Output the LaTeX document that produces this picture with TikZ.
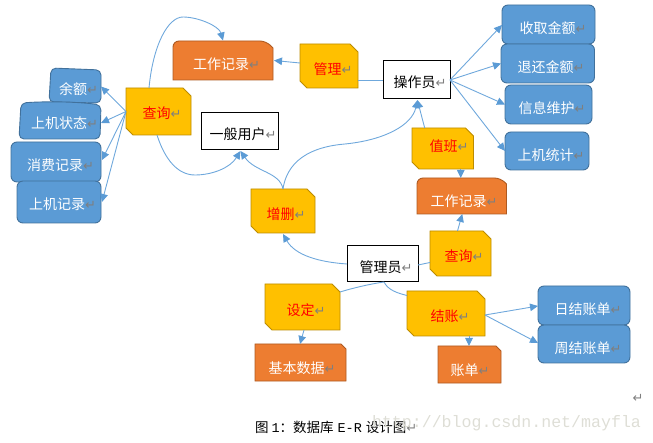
\documentclass[tikz,border=0pt]{standalone}
\usepackage{fontspec}
\setmainfont{Noto Sans CJK SC}
\newfontfamily\dejafont{DejaVu Sans}
\newfontfamily\wmfont{Liberation Mono}
\usetikzlibrary{arrows.meta}
\definecolor{linkblue}{HTML}{6FA8DC}
\definecolor{tipblue}{HTML}{5B9BD5}
\definecolor{bluefill}{HTML}{5B9BD5}
\definecolor{blueline}{HTML}{41719C}
\definecolor{yelfill}{HTML}{FFC000}
\definecolor{yelline}{HTML}{BC8C00}
\definecolor{orfill}{HTML}{ED7D31}
\definecolor{orline}{HTML}{AE5A21}
\definecolor{retgray}{HTML}{7F7F7F}
\newcommand{\retmark}{{\dejafont\fontsize{13}{13}\selectfont\textcolor{retgray}{↵}}}
% name x1 y1 x2 y2 style textx texty text
\newcommand{\erbox}[9]{%
  \pgfmathsetmacro{\cxv}{(#2+#4)/2}\pgfmathsetmacro{\cyv}{(#3+#5)/2}%
  \pgfmathsetmacro{\wv}{#4-#2}\pgfmathsetmacro{\hv}{#5-#3}%
  \pgfmathsetmacro{\dxv}{2*(#7-\cxv)+2}\pgfmathsetmacro{\dyv}{\cyv-#8}%
  \node[#6,minimum width=\wv pt,minimum height=\hv pt] (#1) at (\cxv,\cyv)
    {\raisebox{\dyv pt}[0pt][0pt]{\raisebox{-0.38em}[0pt][0pt]{\makebox[0pt]{\hspace{\dxv pt}#9\retmark}}}};%
}
% yellow outline with two cut corners: x1 y1 x2 y2
\newcommand{\yelshape}[4]{%
  \draw[yelshape] (#1,#2) -- ({#3-8},#2) -- (#3,{#2+8}) -- (#3,#4) -- ({#1+7},#4) -- (#1,{#4-7}) -- cycle;%
}
% orange outline with round top left and cut top right: x1 y1 x2 y2 round cut
\newcommand{\orshape}[6]{%
  \draw[orshape] (#1,#4) {[rounded corners=#5pt] -- (#1,#2) -- ({#3-#6},#2)} -- (#3,{#2+#6}) -- (#3,#4) -- cycle;%
}
\tikzset{
  base/.style={inner sep=0pt,outer sep=0pt,font=\fontsize{14}{14}\selectfont,line width=0.9pt},
  bluebox/.style={base,draw=blueline,fill=bluefill,text=white,rounded corners=6pt},
  lighttext/.style={base,text=white},
  redtext/.style={base,text=red},
  whitebox/.style={base,draw=black,fill=white,text=black,line width=1pt},
  yelshape/.style={draw=yelline,fill=yelfill,line width=0.9pt},
  blueshape/.style={draw=blueline,fill=bluefill,line width=0.9pt,rounded corners=5pt},
  orshape/.style={draw=orline,fill=orfill,line width=0.9pt},
  link/.style={draw=linkblue,line width=0.9pt},
  arrowlink/.style={link,-{Triangle[length=8pt,width=7.5pt,color=tipblue,fill=tipblue]}},
  plain/.style={inner sep=0pt,outer sep=0pt}
}
\begin{document}
\begin{tikzpicture}[x=1pt,y=-1pt]
\useasboundingbox (0,0) rectangle (653,443);
% left attribute boxes
\draw[blueshape] (51,68) -- (101,70) -- (101,103) -- (49,102) -- cycle;
\erbox{yue}{49}{68}{101}{103}{lighttext}{77.5}{89}{余额}
\draw[blueshape] (21,103) .. controls (50,101) and (80,102) .. (101,105) -- (100,139) -- (19,139) -- cycle;
\erbox{zhuangtai}{19}{103}{101}{139}{lighttext}{63.5}{123}{上机状态}
\erbox{xiaofei}{11}{142}{101}{182}{bluebox}{59.5}{165}{消费记录}
\erbox{shangji}{17}{181}{101}{223}{bluebox}{61.5}{204}{上机记录}
% right attribute boxes
\erbox{shouqu}{502}{5}{595}{44}{bluebox}{552}{28}{收取金额}
\erbox{tuihuan}{501}{44}{594.5}{83}{bluebox}{550}{67}{退还金额}
\erbox{xinxi}{505}{85}{592}{124}{bluebox}{551}{108}{信息维护}
\erbox{tongji}{505}{132}{589}{170}{bluebox}{550}{155}{上机统计}
\erbox{rijie}{538}{286}{630}{325}{bluebox}{587}{309}{日结账单}
\erbox{zhoujie}{538}{325}{630}{363}{bluebox}{587}{348}{周结账单}
% orange boxes
\orshape{173}{41}{273}{80}{6}{7}
\erbox{gongzuoa}{173}{41}{273}{80}{lighttext}{225.5}{64}{工作记录}
\orshape{417}{178}{506.5}{214}{6}{6}
\erbox{gongzuob}{417}{178}{506.5}{214}{lighttext}{463}{201}{工作记录}
\orshape{255}{344}{346}{381}{0.01}{5}
\erbox{jiben}{255}{344}{346}{381}{lighttext}{301}{368}{基本数据}
\orshape{438}{346}{501}{383}{0.01}{5}
\erbox{zhangdan}{438}{346}{501}{383}{lighttext}{469}{370}{账单}
% yellow boxes
\yelshape{126}{88}{191}{135}
\erbox{chaxuna}{126}{88}{191}{135}{redtext}{161}{113}{查询}
\yelshape{300}{44}{358}{88}
\erbox{guanli}{300}{44}{358}{88}{redtext}{332}{69}{管理}
\yelshape{251}{189}{315}{233}
\erbox{zengshan}{251}{189}{315}{233}{redtext}{285}{214}{增删}
\yelshape{412}{128}{473.5}{169}
\erbox{zhiban}{412}{128}{473.5}{169}{redtext}{448}{146}{值班}
\yelshape{430}{231}{491}{276}
\erbox{chaxunb}{430}{231}{491}{276}{redtext}{463}{256}{查询}
\yelshape{265}{284}{340}{330}
\erbox{sheding}{265}{284}{340}{330}{redtext}{305}{310}{设定}
\yelshape{407}{291}{485}{336}
\erbox{jiezhang}{407}{291}{485}{336}{redtext}{449}{316}{结账}
% entity boxes
\erbox{caozuo}{383}{61}{450}{99}{whitebox}{419}{82}{操作员}
\erbox{yiban}{201}{113}{278}{150}{whitebox}{242}{134}{一般用户}
\erbox{guanliyuan}{347}{246}{418}{282}{whitebox}{385}{267}{管理员}
% connectors
\draw[arrowlink] (chaxuna.west) -- ([yshift=-1pt]yue.east);
\draw[arrowlink] (chaxuna.west) -- ([yshift=-2pt]zhuangtai.east);
\draw[arrowlink] (chaxuna.west) -- ([xshift=1pt,yshift=2pt]xiaofei.east);
\draw[arrowlink] (chaxuna.west) -- ([xshift=1pt]shangji.east);
\draw[arrowlink] ([xshift=-9.5pt]chaxuna.north) .. controls (153,45) and (168,17) .. (183,17) .. controls (198,17) and (219,26) .. ([yshift=0.5pt]gongzuoa.north);
\draw[arrowlink] ([xshift=-1.5pt]chaxuna.south) .. controls (165,160) and (178,175) .. (195,175) .. controls (212,175) and (230,168) .. ([xshift=1pt,yshift=-1pt]yiban.south);
\draw[arrowlink] ([yshift=3pt]guanli.west) -- ([xshift=1pt]gongzuoa.east);
\draw[link] ([yshift=-14pt]guanli.east) -- (caozuo.west);
\draw[arrowlink] (zengshan.north) .. controls (280,172) and (255,172) .. ([xshift=1pt,yshift=-1pt]yiban.south);
\draw[arrowlink] (zengshan.north) .. controls (288,155) and (320,146) .. (345,144) .. controls (385,140) and (412,125) .. ([xshift=1pt,yshift=-1pt]caozuo.south);
\draw[arrowlink] ([xshift=-18pt]zhiban.north) .. controls (422,118) and (420,110) .. ([xshift=1pt,yshift=-1pt]caozuo.south);
\draw[arrowlink] ([xshift=18pt]zhiban.south) -- ([xshift=-1pt]gongzuob.north);
\draw[arrowlink] ([xshift=-3pt]chaxunb.north) -- ([xshift=0.5pt]gongzuob.south);
\draw[arrowlink] (caozuo.east) -- ([yshift=-0.5pt]shouqu.west);
\draw[arrowlink] (caozuo.east) -- (tuihuan.west);
\draw[arrowlink] (caozuo.east) -- (xinxi.west);
\draw[arrowlink] (caozuo.east) -- (tongji.west);
\draw[arrowlink] (guanliyuan.west) .. controls (318,262) and (295,255) .. ([xshift=0pt,yshift=-1pt]zengshan.south);
\draw[link] ([yshift=-1pt]guanliyuan.east) -- ([yshift=-9pt]chaxunb.west);
\draw[link] ([xshift=1.5pt]guanliyuan.south) .. controls (370,284) and (353,288) .. ([yshift=15pt]sheding.east);
\draw[link] ([xshift=1.5pt]guanliyuan.south) .. controls (388,290) and (397,293) .. ([yshift=18pt]jiezhang.west);
\draw[arrowlink] ([xshift=1.5pt]sheding.south) -- ([xshift=-0.5pt]jiben.north);
\draw[arrowlink] ([xshift=23pt]jiezhang.south) -- ([xshift=-0.5pt]zhangdan.north);
\draw[arrowlink] ([yshift=-1.5pt]jiezhang.east) -- ([yshift=-0.5pt]rijie.west);
\draw[arrowlink] ([yshift=-1.5pt]jiezhang.east) -- ([yshift=1pt]zhoujie.west);
% free text
\node[plain] (parmark) at (638,398) {\retmark};
\node[plain,anchor=west,text=black] (caption) at (255,427)
  {\fontsize{13.5}{14}\selectfont 图\hspace{3pt}{\wmfont 1}：数据库\hspace{4pt}{\wmfont E-R}\hspace{4pt}设计图\retmark};
\node[plain,anchor=west,text={rgb,255:red,222;green,222;blue,214}] (watermark) at (372,423)
  {\wmfont\fontsize{16.6}{17}\selectfont http://blog.csdn.net/mayfla};
\end{tikzpicture}
\end{document}
